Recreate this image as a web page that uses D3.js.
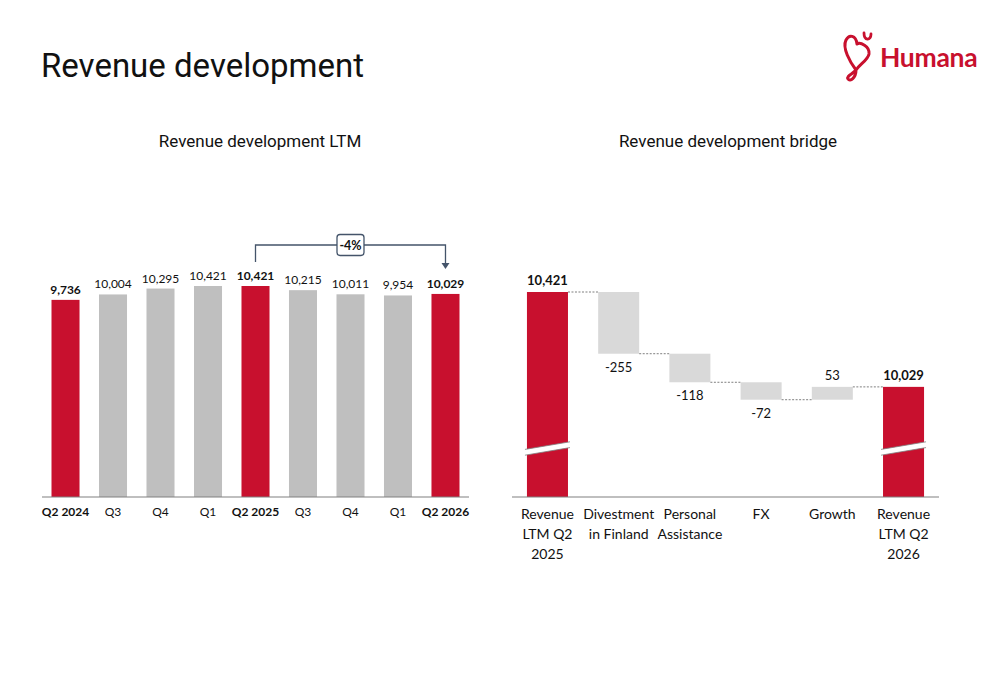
<!DOCTYPE html>
<html>
<head>
<meta charset="utf-8">
<script src="https://cdn.jsdelivr.net/npm/d3@7"></script>
<style>
  html, body { margin: 0; padding: 0; background: #fff; }
  svg { display: block; }
</style>
</head>
<body>
<svg id="chart" width="1000" height="685"></svg>
<script>
// ---------- DATA ----------
const ltmCategories = ["Q2 2024", "Q3", "Q4", "Q1", "Q2 2025", "Q3", "Q4", "Q1", "Q2 2026"];
const ltmValues = [9736, 10004, 10295, 10421, 10421, 10215, 10011, 9954, 10029];
const ltmHighlight = [true, false, false, false, true, false, false, false, true];
const ltmChangeLabel = "-4%";

const bridgeCategories = [
  ["Revenue", "LTM Q2", "2025"],
  ["Divestment", "in Finland"],
  ["Personal", "Assistance"],
  ["FX"],
  ["Growth"],
  ["Revenue", "LTM Q2", "2026"]
];
const bridgeValues = [10421, -255, -118, -72, 53, 10029];
const bridgeIsTotal = [true, false, false, false, false, true];

// ---------- STYLE ----------
const RED = "#C8102E";
const GREY1 = "#BFBFBF";
const GREY2 = "#D9D9D9";
const AXIS = "#808080";
const LABEL_FONT = "Lato, 'Liberation Sans', sans-serif";
const TITLE_FONT = "Roboto, 'Open Sans', sans-serif";
const fmt = d3.formatLocale({ decimal: ".", thousands: ",", grouping: [3], currency: ["", ""], minus: "-" }).format(",");

const svg = d3.select("#chart");

// ---------- TITLES ----------
svg.append("text").attr("x", 41).attr("y", 77)
  .attr("font-family", TITLE_FONT).attr("font-size", 33).attr("fill", "#111")
  .text("Revenue development");

svg.append("text").attr("x", 260).attr("y", 147).attr("text-anchor", "middle")
  .attr("font-family", TITLE_FONT).attr("font-size", 17).attr("fill", "#111")
  .text("Revenue development LTM");

svg.append("text").attr("x", 728).attr("y", 147).attr("text-anchor", "middle")
  .attr("font-family", TITLE_FONT).attr("font-size", 17).attr("fill", "#111")
  .text("Revenue development bridge");

// ---------- LOGO ----------
const logo = svg.append("g");
logo.append("path")
  .attr("d", "M856 70 C850 62 842 48 846 40 C849 34 856 35 857 44 C860 42 870 46 869 54 C868 60 860 64 856 70 C853 74 846 76 848 79 C850 82 856 78 856 70")
  .attr("fill", "none").attr("stroke", RED).attr("stroke-width", 3)
  .attr("stroke-linecap", "round").attr("stroke-linejoin", "round");
logo.append("path")
  .attr("d", "M864 33 C864 41 871 41 871 34")
  .attr("fill", "none").attr("stroke", RED).attr("stroke-width", 2.8)
  .attr("stroke-linecap", "round");
logo.append("text").attr("x", 880).attr("y", 66.5)
  .attr("font-family", "Lato, 'Open Sans', sans-serif").attr("font-size", 26.5)
  .attr("font-weight", 700).attr("fill", RED).attr("letter-spacing", -0.3)
  .text("Humana");

// ---------- LEFT CHART: LTM ----------
const baseY = 497;
const xL = d3.scaleBand()
  .domain(d3.range(ltmValues.length))
  .range([42, 469])
  .paddingInner(0.41)
  .paddingOuter(0.2);
const yL = d3.scaleLinear().domain([0, 10421]).range([baseY, 286]);

const gL = svg.append("g");
gL.selectAll("rect").data(ltmValues).join("rect")
  .attr("x", (d, i) => xL(i))
  .attr("y", d => yL(d))
  .attr("width", xL.bandwidth())
  .attr("height", d => baseY - yL(d))
  .attr("fill", (d, i) => ltmHighlight[i] ? RED : GREY1);

gL.selectAll("text.val").data(ltmValues).join("text")
  .attr("class", "val")
  .attr("x", (d, i) => xL(i) + xL.bandwidth() / 2)
  .attr("y", d => yL(d) - 6)
  .attr("text-anchor", "middle")
  .attr("font-family", LABEL_FONT).attr("font-size", 12)
  .attr("font-weight", (d, i) => ltmHighlight[i] ? "bold" : "normal")
  .attr("fill", "#111")
  .text(d => fmt(d));

const axL = gL.append("g").attr("transform", `translate(0,${baseY})`)
  .call(d3.axisBottom(xL).tickSize(0).tickPadding(10).tickFormat(i => ltmCategories[i]));
axL.select(".domain").attr("stroke", AXIS).attr("stroke-width", 1.2).attr("d", `M42,0H469`);
axL.selectAll("text")
  .attr("font-family", LABEL_FONT).attr("font-size", 12).attr("fill", "#111")
  .attr("font-weight", i => ltmHighlight[i] ? "bold" : "normal");

// change bracket
const i0 = 4, i1 = 8;
const cx0 = xL(i0) + xL.bandwidth() / 2;
const cx1 = xL(i1) + xL.bandwidth() / 2;
const brY = 245;
gL.append("path")
  .attr("d", `M${cx0},${yL(ltmValues[i0]) - 24}V${brY}H${cx1}V${yL(ltmValues[i1]) - 30}`)
  .attr("fill", "none").attr("stroke", "#44546A").attr("stroke-width", 1.3);
gL.append("path")
  .attr("d", `M${cx1 - 4},${yL(ltmValues[i1]) - 31}L${cx1 + 4},${yL(ltmValues[i1]) - 31}L${cx1},${yL(ltmValues[i1]) - 25}Z`)
  .attr("fill", "#44546A");
const midX = (cx0 + cx1) / 2;
gL.append("rect").attr("x", midX - 13.5).attr("y", brY - 10.5).attr("width", 27).attr("height", 21)
  .attr("rx", 3).attr("fill", "#fff").attr("stroke", "#44546A").attr("stroke-width", 1.3);
gL.append("text").attr("x", midX).attr("y", brY + 4.5).attr("text-anchor", "middle")
  .attr("font-family", LABEL_FONT).attr("font-size", 12.5).attr("font-weight", "bold").attr("fill", "#111")
  .text(ltmChangeLabel);

// ---------- RIGHT CHART: BRIDGE ----------
const xR = d3.scaleBand()
  .domain(d3.range(bridgeValues.length))
  .range([512, 939])
  .paddingInner(0.424)
  .paddingOuter(0.21);
const yR = d3.scaleLinear().domain([9574, 10421]).range([baseY, 292]);

// compute running levels
let level = 0;
const bars = bridgeValues.map((v, i) => {
  let start, end;
  if (bridgeIsTotal[i]) { start = yR.domain()[0]; end = v; level = v; }
  else { start = level; end = level + v; level = end; }
  return { i, v, start, end, total: bridgeIsTotal[i] };
});

const gR = svg.append("g");
gR.selectAll("rect.bar").data(bars).join("rect")
  .attr("class", "bar")
  .attr("x", d => xR(d.i))
  .attr("y", d => yR(Math.max(d.start, d.end)))
  .attr("width", xR.bandwidth())
  .attr("height", d => Math.abs(yR(d.start) - yR(d.end)))
  .attr("fill", d => d.total ? RED : GREY2);

// connectors
for (let k = 0; k < bars.length - 1; k++) {
  const lvl = bars[k].end;
  gR.append("line")
    .attr("x1", xR(k) + xR.bandwidth()).attr("x2", xR(k + 1))
    .attr("y1", yR(lvl)).attr("y2", yR(lvl))
    .attr("stroke", "#7F7F7F").attr("stroke-width", 1).attr("stroke-dasharray", "2,1.5");
}

// break marks on total bars
bars.filter(d => d.total).forEach(d => {
  const x0 = xR(d.i) - 2, x1 = xR(d.i) + xR.bandwidth() + 2;
  const yc = 448.5, slope = 3.8, h = 2.9;
  const g = gR.append("g");
  g.append("path")
    .attr("d", `M${x0},${yc + slope - h}L${x1},${yc - slope - h}L${x1},${yc - slope + h}L${x0},${yc + slope + h}Z`)
    .attr("fill", "#fff");
  g.append("line").attr("x1", x0).attr("x2", x1).attr("y1", yc + slope - h).attr("y2", yc - slope - h)
    .attr("stroke", "#7F7F7F").attr("stroke-width", 0.8);
  g.append("line").attr("x1", x0).attr("x2", x1).attr("y1", yc + slope + h).attr("y2", yc - slope + h)
    .attr("stroke", "#7F7F7F").attr("stroke-width", 0.8);
});

// value labels
gR.selectAll("text.val").data(bars).join("text")
  .attr("class", "val")
  .attr("x", d => xR(d.i) + xR.bandwidth() / 2)
  .attr("y", d => d.v < 0 ? yR(d.end) + 18 : yR(d.end) - 7)
  .attr("text-anchor", "middle")
  .attr("font-family", LABEL_FONT).attr("font-size", 13)
  .attr("font-weight", d => d.total ? "bold" : "normal")
  .attr("fill", "#111")
  .text(d => fmt(d.v));

// axis
const axR = gR.append("g").attr("transform", `translate(0,${baseY})`)
  .call(d3.axisBottom(xR).tickSize(0).tickPadding(0).tickFormat(""));
axR.select(".domain").attr("stroke", AXIS).attr("stroke-width", 1.2).attr("d", `M512,0H939`);
axR.selectAll(".tick").each(function(i) {
  const t = d3.select(this).append("text")
    .attr("text-anchor", "middle")
    .attr("font-family", LABEL_FONT).attr("font-size", 14).attr("fill", "#111");
  bridgeCategories[i].forEach((line, j) => {
    t.append("tspan").attr("x", 0).attr("y", 22 + j * 20).text(line);
  });
});
</script>
</body>
</html>
